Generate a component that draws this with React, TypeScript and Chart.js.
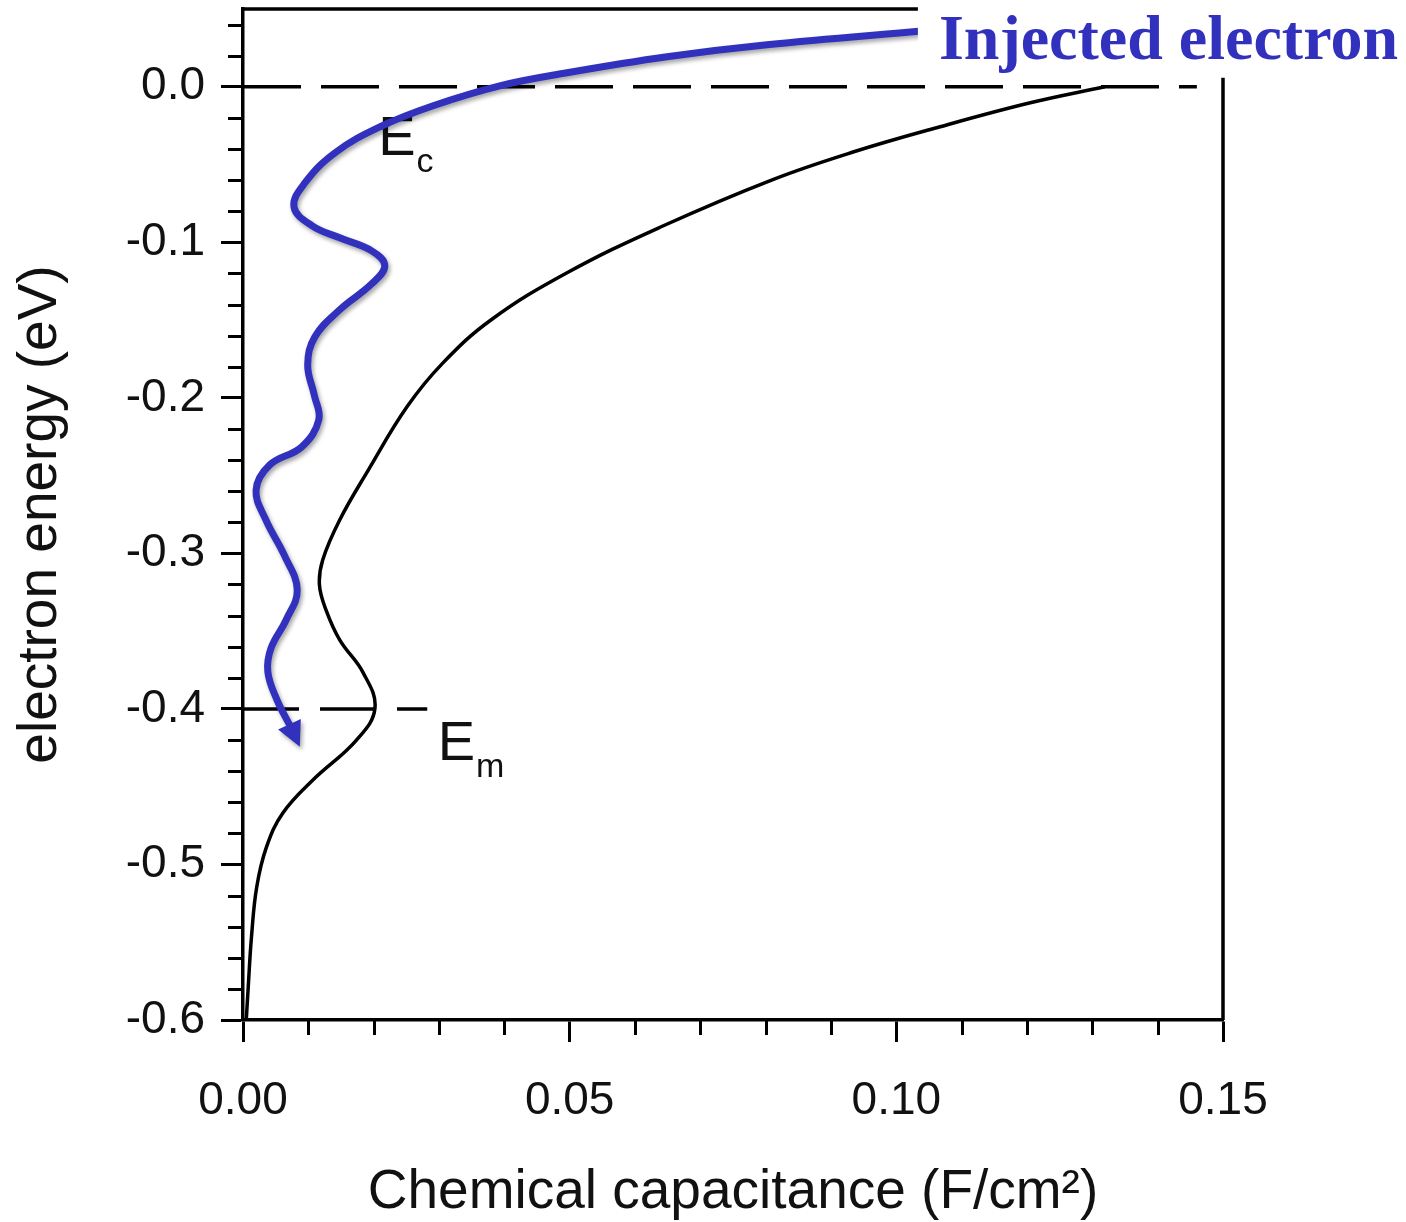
import React, { useEffect, useRef } from 'react';
import { Chart, registerables } from 'chart.js';

Chart.register(...registerables);

// Chemical capacitance curve (x = capacitance F/cm², y = electron energy eV)
const CURVE_C = [0.1319, 0.1205, 0.1067, 0.0935, 0.0810, 0.0640, 0.0496, 0.0380, 0.0305, 0.0251, 0.0192, 0.0148, 0.0122, 0.0117, 0.0127, 0.0148, 0.0184, 0.0202, 0.0174, 0.0107, 0.0061, 0.0036, 0.0021, 0.0013, 0.0008, 0.0005];
const CURVE_E = [0.0, -0.0103, -0.0257, -0.0418, -0.0598, -0.0900, -0.1196, -0.1498, -0.1780, -0.2058, -0.2463, -0.2785, -0.3042, -0.3203, -0.3363, -0.3556, -0.3768, -0.3994, -0.4199, -0.4457, -0.4669, -0.4887, -0.5145, -0.5466, -0.5788, -0.6];

// Injected electron path (blue annotation)
const PATH_C = [0.1044, 0.0802, 0.0649, 0.0496, 0.0393, 0.0291, 0.0210, 0.0141, 0.0095, 0.0078, 0.0106, 0.0148, 0.0197, 0.0217, 0.0197, 0.0148, 0.0110, 0.0099, 0.0109, 0.0116, 0.0090, 0.0041, 0.0020, 0.0035, 0.0063, 0.0083, 0.0066, 0.0043, 0.0038, 0.0052, 0.0073];
const PATH_E = [0.0360, 0.0270, 0.0193, 0.0090, 0.0006, -0.0122, -0.0257, -0.0424, -0.0617, -0.0772, -0.0894, -0.0971, -0.1055, -0.1151, -0.1267, -0.1434, -0.1608, -0.1788, -0.1981, -0.2141, -0.2315, -0.2431, -0.2592, -0.2785, -0.3010, -0.3235, -0.3428, -0.3608, -0.3762, -0.3942, -0.4116];
const ARROW_TIP = [0.0087, -0.4244];

// Reference levels
const EC_LINE_C = [0, 0.146];
const EC_LINE_E = [0, 0];
const EM_LINE_C = [0, 0.0282];
const EM_LINE_E = [-0.4, -0.4];

// Annotations
const LEVEL_NAMES = ['E', 'E'];
const LEVEL_SUBS = ['c', 'm'];
const LEVEL_C = [0.0207, 0.0298];
const LEVEL_E = [-0.0437, -0.4328];
const INJECTED_LABEL = 'Injected electron';

// Axes
const X_MIN = 0;
const X_MAX = 0.15;
const Y_MIN = -0.6;
const Y_MAX = 0.05;
const X_MAJOR = [0, 0.05, 0.1, 0.15];
const X_LABELS = ['0.00', '0.05', '0.10', '0.15'];
const X_MINOR_STEP = 0.01;
const Y_MAJOR = [-0.6, -0.5, -0.4, -0.3, -0.2, -0.1, 0.0];
const Y_LABELS = ['-0.6', '-0.5', '-0.4', '-0.3', '-0.2', '-0.1', '0.0'];
const Y_MINOR_STEP = 0.02;
const Y_MINOR_TOP = 0.04;
const X_TITLE = 'Chemical capacitance (F/cm²)';
const Y_TITLE = 'electron energy (eV)';

const BLUE = '#3131BD';
const INK = '#111111';
const SANS = '"Liberation Sans", Arial, Helvetica, sans-serif';
const SERIF = '"Liberation Serif", "Times New Roman", serif';

const zip = (xs: number[], ys: number[]) => xs.map((x, i) => ({ x, y: ys[i] }));

const near = (a: number, b: number) => Math.abs(a - b) < 1e-6;

const xTickValues = (): number[] => {
  const out: number[] = [];
  const n = Math.round((X_MAX - X_MIN) / X_MINOR_STEP);
  for (let i = 0; i <= n; i++) out.push(+(X_MIN + i * X_MINOR_STEP).toFixed(4));
  return out;
};
const yTickValues = (): number[] => {
  const out: number[] = [];
  const n = Math.round((Y_MINOR_TOP - Y_MIN) / Y_MINOR_STEP);
  for (let i = 0; i <= n; i++) out.push(+(Y_MIN + i * Y_MINOR_STEP).toFixed(4));
  return out;
};
const isXMajor = (v: number) => X_MAJOR.some((m) => near(m, v));
const isYMajor = (v: number) => Y_MAJOR.some((m) => near(m, v));

const BLUE_INDEX = 0;

const decorPlugin = {
  id: 'decor',
  beforeDatasetsDraw(chart: any) {
    const { ctx, chartArea, scales } = chart;
    const x = scales.x;
    const y = scales.y;
    ctx.save();
    ctx.strokeStyle = '#000';
    ctx.lineWidth = 3.5;
    ctx.beginPath();
    ctx.moveTo(chartArea.left, chartArea.top);
    ctx.lineTo(chartArea.right, chartArea.top);
    ctx.moveTo(chartArea.right, chartArea.top);
    ctx.lineTo(chartArea.right, chartArea.bottom);
    ctx.stroke();
    ctx.lineWidth = 3;
    ctx.beginPath();
    for (const v of xTickValues()) {
      if (isXMajor(v)) continue;
      const px = Math.round(x.getPixelForValue(v)) + 0.5;
      ctx.moveTo(px, chartArea.bottom);
      ctx.lineTo(px, chartArea.bottom + 15);
    }
    for (const v of yTickValues()) {
      if (isYMajor(v)) continue;
      const py = Math.round(y.getPixelForValue(v)) + 0.5;
      ctx.moveTo(chartArea.left, py);
      ctx.lineTo(chartArea.left - 15, py);
    }
    ctx.stroke();
    ctx.fillStyle = INK;
    ctx.textBaseline = 'alphabetic';
    ctx.textAlign = 'left';
    for (let i = 0; i < LEVEL_NAMES.length; i++) {
      const px = x.getPixelForValue(LEVEL_C[i]);
      const py = y.getPixelForValue(LEVEL_E[i]);
      ctx.font = `56px ${SANS}`;
      ctx.fillText(LEVEL_NAMES[i], px, py);
      const w = ctx.measureText(LEVEL_NAMES[i]).width;
      ctx.font = `34px ${SANS}`;
      ctx.fillText(LEVEL_SUBS[i], px + w + 1, py + 17);
    }
    ctx.restore();
  },
  beforeDatasetDraw(chart: any, args: any) {
    if (args.index !== BLUE_INDEX) return;
    const { ctx } = chart;
    ctx.save();
    ctx.shadowColor = 'rgba(0,0,0,0.35)';
    ctx.shadowBlur = 4;
    ctx.shadowOffsetX = 2;
    ctx.shadowOffsetY = 3;
  },
  afterDatasetDraw(chart: any, args: any) {
    if (args.index !== BLUE_INDEX) return;
    const { ctx, scales } = chart;
    const x = scales.x;
    const y = scales.y;
    const n = PATH_C.length;
    const bx = x.getPixelForValue(PATH_C[n - 1]);
    const by = y.getPixelForValue(PATH_E[n - 1]);
    const tx = x.getPixelForValue(ARROW_TIP[0]);
    const ty = y.getPixelForValue(ARROW_TIP[1]);
    const dx = tx - bx;
    const dy = ty - by;
    const len = Math.hypot(dx, dy) || 1;
    const ux = dx / len;
    const uy = dy / len;
    const half = 12.5;
    const baseX = bx - ux * 3;
    const baseY = by - uy * 3;
    ctx.fillStyle = BLUE;
    ctx.beginPath();
    ctx.moveTo(tx, ty);
    ctx.lineTo(baseX - uy * half, baseY + ux * half);
    ctx.lineTo(baseX + uy * half, baseY - ux * half);
    ctx.closePath();
    ctx.fill();
    ctx.restore();
  },
  afterDraw(chart: any) {
    const { ctx, scales } = chart;
    const x = scales.x;
    const y = scales.y;
    const startX = x.getPixelForValue(0.1033);
    const boxBottom = y.getPixelForValue(0.0058);
    ctx.save();
    ctx.fillStyle = '#ffffff';
    ctx.fillRect(startX, 0, chart.width - startX, boxBottom);
    ctx.fillStyle = BLUE;
    ctx.font = `bold 64px ${SERIF}`;
    ctx.textAlign = 'left';
    ctx.textBaseline = 'alphabetic';
    ctx.fillText(INJECTED_LABEL, startX + 21, 59);
    ctx.restore();
  },
};

export default function App() {
  const canvasRef = useRef<HTMLCanvasElement | null>(null);

  useEffect(() => {
    const canvas = canvasRef.current;
    if (!canvas) return;
    const chart = new Chart(canvas, {
      type: 'line',
      data: {
        datasets: [
          {
            label: 'Injected electron',
            data: zip(PATH_C, PATH_E),
            borderColor: BLUE,
            borderWidth: 7,
            pointRadius: 0,
            tension: 0.4,
            fill: false,
          },
          {
            label: 'Chemical capacitance',
            data: zip(CURVE_C, CURVE_E),
            borderColor: '#000',
            borderWidth: 3.5,
            pointRadius: 0,
            tension: 0.4,
            fill: false,
          },
          {
            label: 'Ec',
            data: zip(EC_LINE_C, EC_LINE_E),
            borderColor: '#000',
            borderWidth: 3.5,
            borderDash: [58, 20],
            pointRadius: 0,
            tension: 0,
            fill: false,
          },
          {
            label: 'Em',
            data: zip(EM_LINE_C, EM_LINE_E),
            borderColor: '#000',
            borderWidth: 3.5,
            borderDash: [56, 21],
            pointRadius: 0,
            tension: 0,
            fill: false,
          },
        ],
      },
      options: {
        responsive: false,
        animation: false,
        devicePixelRatio: 1,
        layout: { padding: { top: 9, right: 183, left: 0, bottom: 0 } },
        plugins: {
          legend: { display: false },
          tooltip: { enabled: false },
        },
        elements: { line: { capBezierPoints: false } },
        scales: {
          x: {
            type: 'linear',
            min: X_MIN,
            max: X_MAX,
            afterBuildTicks: (s: any) => {
              s.ticks = xTickValues().map((v) => ({ value: v }));
            },
            afterFit: (s: any) => {
              s.height = 202;
              s.paddingLeft = 0;
              s.paddingRight = 0;
              s.paddingTop = 0;
              s.paddingBottom = 0;
            },
            grid: {
              drawOnChartArea: false,
              drawTicks: true,
              tickLength: 22,
              tickWidth: 3,
              tickColor: (c: any) => (c.tick && isXMajor(c.tick.value) ? '#000' : 'rgba(0,0,0,0)'),
            },
            border: { display: true, color: '#000', width: 3.5 },
            ticks: {
              autoSkip: false,
              maxRotation: 0,
              minRotation: 0,
              padding: 32,
              color: INK,
              font: { family: SANS, size: 46 },
              callback: (value: any) => {
                const i = X_MAJOR.findIndex((m) => near(m, Number(value)));
                return i >= 0 ? X_LABELS[i] : null;
              },
            },
            title: {
              display: true,
              text: X_TITLE,
              color: INK,
              font: { family: SANS, size: 55, lineHeight: 1 },
              padding: { top: 0, bottom: 2 },
            },
          },
          y: {
            type: 'linear',
            min: Y_MIN,
            max: Y_MAX,
            afterBuildTicks: (s: any) => {
              s.ticks = yTickValues().map((v) => ({ value: v }));
            },
            afterFit: (s: any) => {
              s.width = 243;
              s.paddingTop = 0;
              s.paddingBottom = 0;
              s.paddingLeft = 0;
              s.paddingRight = 0;
            },
            grid: {
              drawOnChartArea: false,
              drawTicks: true,
              tickLength: 22,
              tickWidth: 3,
              tickColor: (c: any) => (c.tick && isYMajor(c.tick.value) ? '#000' : 'rgba(0,0,0,0)'),
            },
            border: { display: true, color: '#000', width: 3.5 },
            ticks: {
              autoSkip: false,
              padding: 16,
              color: INK,
              font: { family: SANS, size: 46 },
              callback: (value: any) => {
                const i = Y_MAJOR.findIndex((m) => near(m, Number(value)));
                return i >= 0 ? Y_LABELS[i] : null;
              },
            },
            title: {
              display: true,
              text: Y_TITLE,
              color: INK,
              font: { family: SANS, size: 55 },
              padding: { top: 8, bottom: 0 },
            },
          },
        },
      } as any,
      plugins: [decorPlugin as any],
    });
    return () => chart.destroy();
  }, []);

  return (
    <div style={{ position: 'absolute', left: 0, top: 0, width: 1406, height: 1222, background: '#ffffff' }}>
      <canvas ref={canvasRef} width={1406} height={1222} style={{ display: 'block' }} />
    </div>
  );
}
